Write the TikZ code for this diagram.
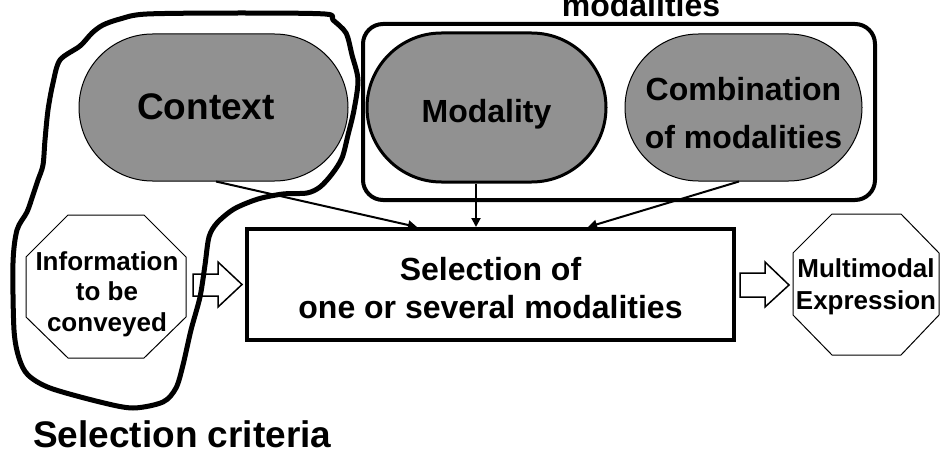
\documentclass[tikz,border=0pt]{standalone}
\usepackage{fontspec}
\setmainfont{Liberation Sans}
\usetikzlibrary{shapes.misc,arrows.meta}
\definecolor{pillgray}{RGB}{145,145,145}
\begin{document}
\begin{tikzpicture}[x=1pt,y=-1pt,
  pill/.style={rounded rectangle, fill=pillgray, draw=black, inner sep=0pt, align=center},
  bigtxt/.style={font=\bfseries\fontsize{32}{48}\selectfont},
  octtxt/.style={font=\bfseries\fontsize{26}{31}\selectfont, align=center, inner sep=0pt},
  octline/.style={draw=black, line width=1pt, line join=miter},
  conn/.style={line width=2pt, -{Triangle[length=9pt,width=9pt]}},
  blockarrow/.style={draw=black, line width=1.5pt, fill=white, line join=miter},
]
\useasboundingbox (0,0) rectangle (951,452);

% upper row: context and the modality group
\node[pill, line width=1pt, minimum width=269pt, minimum height=147pt,
      font=\bfseries\fontsize{37}{44}\selectfont, text height=25pt, text depth=0pt] (ctx) at (213.5,107.5) {\hspace*{-15pt}Context};
\node[draw, line width=4pt, rounded corners=20pt, minimum width=512pt, minimum height=176pt, inner sep=0pt] (grp) at (619,112) {};
\node[pill, line width=3pt, minimum width=239pt, minimum height=149pt, bigtxt,
      text height=29pt, text depth=0pt] (mod) at (486.5,107.5) {Modality};
\node[pill, line width=1pt, minimum width=237pt, minimum height=147pt, bigtxt,
      text height=81pt, text depth=0pt] (comb) at (743.5,107.5) {Combination\\of modalities};
\node[bigtxt, anchor=base, inner sep=0pt] (grptitle) at (641,17) {modalities};

% central selection box
\node[draw, line width=4pt, minimum width=487pt, minimum height=111pt, inner sep=0pt,
      font=\bfseries\fontsize{32}{38}\selectfont, align=center, text height=67pt, text depth=0pt] (sel) at (490.5,284.5)
      {Selection of\\one or several modalities};

% input and output octagons
\path[octline] (68,215) -- (144,215) -- (186,257) -- (186,317) -- (144,358) -- (68,358) -- (26,317) -- (26,257) -- cycle;
\node[octtxt, font=\bfseries\fontsize{26}{30.5}\selectfont] (info) at (107,294) {Information\\to be\\conveyed};
\path[octline] (832,214) -- (901,214) -- (939,253) -- (939,315) -- (901,355) -- (832,355) -- (793,315) -- (793,253) -- cycle;
\node[octtxt, font=\bfseries\fontsize{26}{32}\selectfont] (mme) at (866,287) {Multimodal\\Expression};

% block arrows
\path[blockarrow] (193,274) -- (218,274) -- (218,262) -- (242,284.5) -- (218,307) -- (218,296) -- (193,296) -- cycle;
\path[blockarrow] (740,273) -- (765,273) -- (765,262) -- (789,285) -- (765,307) -- (765,297) -- (740,297) -- cycle;

% connectors into the selection box
\draw[conn] ([xshift=2.5pt]ctx.south) -- ([xshift=-73.5pt]sel.north);
\draw[conn] ([xshift=-10.5pt]mod.south) -- ([xshift=-14.5pt]sel.north);
\draw[conn] ([xshift=-4.5pt]comb.south) -- ([xshift=97.5pt]sel.north);

% hand-drawn outline of the selection criteria
\draw[line width=5pt, line join=round] plot[smooth cycle, tension=0.5] coordinates {
  (60,60) (80,46) (92,33) (103,25) (120,19) (147,14) (240,13) (325,14) (333,20) (346,33)
  (352,55) (358,80) (354,110) (348,135) (342,158) (332,174) (320,187) (307,193) (283,194)
  (258,199) (234,209) (217,223) (209,237) (205,265) (200,297) (191,330) (183,365) (176,388)
  (163,402) (133,408) (100,402) (50,388) (28,375) (19,358) (14,330) (13,263) (17,230)
  (27,212) (33,195) (38,180) (43,165) (45,140) (48,110) (53,83)};
\node[font=\bfseries\fontsize{37}{40}\selectfont, anchor=base west, inner sep=0pt] (crit) at (33,447) {Selection criteria};
\end{tikzpicture}
\end{document}
